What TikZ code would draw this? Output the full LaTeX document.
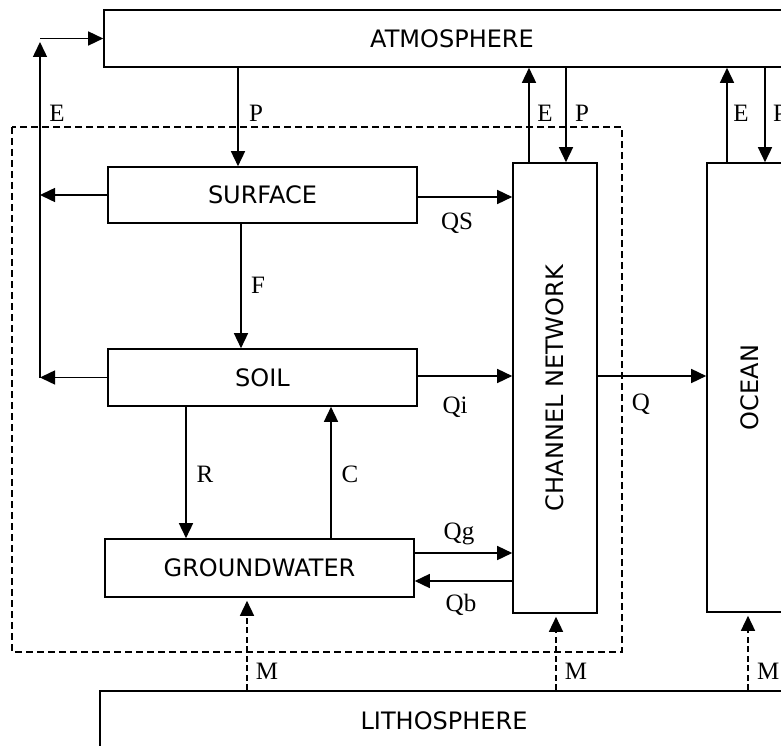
\documentclass[tikz,border=0pt]{standalone}
\usepackage{fontspec}
\setmainfont{Liberation Serif}
\newfontfamily\boxfont{DejaVu Sans}
\usetikzlibrary{arrows.meta}
\begin{document}
\begin{tikzpicture}[x=1pt,y=-1pt,
  boxtext/.style={inner sep=0pt,font=\boxfont\fontsize{24}{28}\selectfont},
  box/.style={boxtext,draw,line width=1.6pt},
  arr/.style={line width=1.5pt,-{Triangle[length=15pt,width=14pt]}},
  marr/.style={arr,dash pattern=on 6pt off 3.5pt,shorten >=3pt},
  lab/.style={anchor=base,inner sep=0pt,font=\fontsize{25}{28}\selectfont}]
\useasboundingbox (0,0) rectangle (781,746);
\clip (0,0) rectangle (781,746);
\fill[white] (0,0) rectangle (781,746);
% boxes
\node[box,minimum width=696pt,minimum height=57pt] (atm) at (452,38.5) {ATMOSPHERE};
\node[box,minimum width=309pt,minimum height=56pt] (surf) at (262.5,195) {SURFACE};
\node[box,minimum width=309pt,minimum height=57pt] (soil) at (262.5,377.5) {SOIL};
\node[box,minimum width=309pt,minimum height=58pt] (gw) at (259.5,568) {GROUNDWATER};
\node[box,minimum width=84pt,minimum height=450pt] (chan) at (555,388) {};
\node[boxtext,rotate=90] (chanlab) at (chan.center) {CHANNEL NETWORK};
\node[box,minimum width=86pt,minimum height=449pt] (ocean) at (750,387.5) {};
\node[boxtext,rotate=90] (oceanlab) at (ocean.center) {OCEAN};
\node[box,minimum width=688pt,minimum height=60pt] (litho) at (444,721) {LITHOSPHERE};
% dashed subsystem boundary
\draw[line width=1.3pt,dash pattern=on 7pt off 4pt] (12,127) rectangle (622,652);
% coordinates for connector positions
\coordinate (eL) at (40,0);
\coordinate (eTop) at (40,38.5);
\coordinate (eTip) at (40,42);
\coordinate (xP) at (238,0);
\coordinate (xF) at (241,0);
\coordinate (xR) at (186,0);
\coordinate (xC) at (331,0);
\coordinate (xEc) at (529,0);
\coordinate (xPc) at (566,0);
\coordinate (xEo) at (727,0);
\coordinate (xPo) at (765,0);
\coordinate (xMg) at (247,0);
\coordinate (xMc) at (556,0);
\coordinate (xMo) at (748,0);
\coordinate (yQS) at (0,197);
\coordinate (yQi) at (0,376);
\coordinate (yQg) at (0,553);
\coordinate (yQb) at (0,581);
% evaporation return line
\draw[arr] (soil.west -| eL) -- (eTip);
\draw[arr] (eTop) -- (atm.west);
\draw[arr] (surf.west) -- (surf.west -| eL);
\draw[arr] (soil.west) -- (soil.west -| eL);
% vertical fluxes
\draw[arr] (atm.south -| xP) -- (surf.north -| xP);
\draw[arr] (surf.south -| xF) -- (soil.north -| xF);
\draw[arr] (soil.south -| xR) -- (gw.north -| xR);
\draw[arr] (gw.north -| xC) -- (soil.south -| xC);
\draw[arr] (chan.north -| xEc) -- (atm.south -| xEc);
\draw[arr] (atm.south -| xPc) -- (chan.north -| xPc);
\draw[arr] (ocean.north -| xEo) -- (atm.south -| xEo);
\draw[arr] (atm.south -| xPo) -- (ocean.north -| xPo);
% horizontal fluxes
\draw[arr] (surf.east |- yQS) -- (chan.west |- yQS);
\draw[arr] (soil.east |- yQi) -- (chan.west |- yQi);
\draw[arr] (gw.east |- yQg) -- (chan.west |- yQg);
\draw[arr] (chan.west |- yQb) -- (gw.east |- yQb);
\draw[arr] (chan.east |- yQi) -- (ocean.west |- yQi);
% lithosphere exchanges
\draw[marr] (litho.north -| xMg) -- (gw.south -| xMg);
\draw[marr] (litho.north -| xMc) -- (chan.south -| xMc);
\draw[marr] (litho.north -| xMo) -- (ocean.south -| xMo);
% labels
\node[lab] (lE) at (57,122) {E};
\node[lab] (lP) at (256,122) {P};
\node[lab] (lEc) at (545,122) {E};
\node[lab] (lPc) at (582,122) {P};
\node[lab] (lEo) at (741,122) {E};
\node[lab,anchor=base west] (lPo) at (773,122) {P};
\node[lab] (lQS) at (457,229) {QS};
\node[lab] (lF) at (258,293) {F};
\node[lab] (lQi) at (455,413) {Qi};
\node[lab] (lQ) at (641,410) {Q};
\node[lab] (lR) at (205,482) {R};
\node[lab] (lC) at (350,482) {C};
\node[lab] (lQg) at (459,539) {Qg};
\node[lab] (lQb) at (461,611) {Qb};
\node[lab] (lMg) at (267,679) {M};
\node[lab] (lMc) at (576,679) {M};
\node[lab,anchor=base west] (lMo) at (757,679) {M};
\end{tikzpicture}
\end{document}
